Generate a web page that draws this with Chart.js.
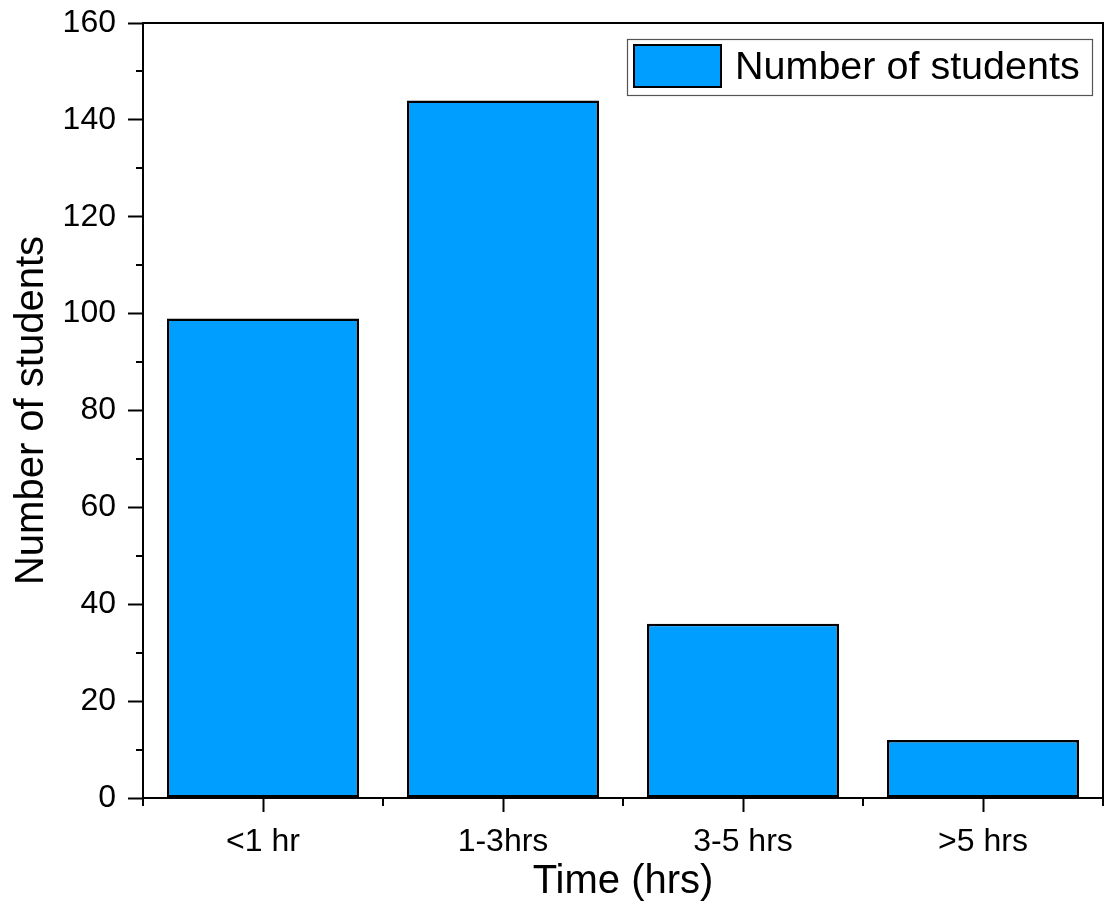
<!DOCTYPE html>
<html>
<head>
<meta charset="utf-8">
<style>
  html, body { margin: 0; padding: 0; background: #ffffff; }
  #wrap { width: 1107px; height: 911px; }
</style>
<script src="https://cdn.jsdelivr.net/npm/chart.js@4.4.1/dist/chart.umd.min.js"></script>
</head>
<body>
<div id="wrap"><canvas id="chart" width="1107" height="911"></canvas></div>
<script>
// Study time groups and how many students fall in each
const categories = ['<1 hr', '1-3hrs', '3-5 hrs', '>5 hrs'];
const studentCounts = [99, 144, 36, 12];
const seriesLabel = 'Number of students';
const yTicks = { min: 0, max: 160, step: 20, minorStep: 10 };

const FONT = "'Liberation Sans', Arial, Helvetica, sans-serif";
const BAR_FILL = '#009EFF';
const INK = '#000000';
const TITLE_SIZE = 40;
const LEGEND_SIZE = 39.5;

// Minor tick marks, the closed frame and the boxed legend
const framePlugin = {
  id: 'frameAndMinorTicks',
  afterDraw(chart) {
    const { ctx, chartArea: a, scales } = chart;
    const y = scales.y, x = scales.x;
    ctx.save();
    ctx.strokeStyle = INK;
    ctx.lineWidth = 2;

    // top and right edges of the frame
    ctx.beginPath();
    ctx.moveTo(a.left, a.top);
    ctx.lineTo(a.right, a.top);
    ctx.lineTo(a.right, a.bottom);
    ctx.stroke();

    // y minor ticks
    ctx.beginPath();
    for (let v = yTicks.min + yTicks.minorStep; v < yTicks.max; v += yTicks.step) {
      const py = Math.round(y.getPixelForValue(v));
      ctx.moveTo(a.left - 7, py);
      ctx.lineTo(a.left, py);
    }
    // x minor ticks on category boundaries
    const n = categories.length;
    const half = (x.getPixelForValue(1) - x.getPixelForValue(0)) / 2;
    for (let i = 0; i <= n; i++) {
      const px = Math.round(x.getPixelForValue(Math.min(i, n - 1)) + (i < n ? -half : half));
      ctx.moveTo(px, a.bottom);
      ctx.lineTo(px, a.bottom + 8);
    }
    ctx.stroke();

    // legend box
    const ds = chart.data.datasets[0];
    const bx = a.right - 476, by = a.top + 16, bw = 465, bh = 56;
    ctx.lineWidth = 1.2;
    ctx.strokeStyle = '#555555';
    ctx.strokeRect(bx + 0.5, by + 0.5, bw, bh);
    ctx.fillStyle = ds.backgroundColor;
    ctx.fillRect(bx + 6, by + 5, 89, 44);
    ctx.lineWidth = 2;
    ctx.strokeStyle = INK;
    ctx.strokeRect(bx + 7, by + 6, 87, 42);
    ctx.fillStyle = INK;
    ctx.font = LEGEND_SIZE + 'px ' + FONT;
    ctx.textBaseline = 'middle';
    ctx.textAlign = 'left';
    ctx.fillText(ds.label, bx + 108, by + 29);
    ctx.restore();
  }
};

new Chart(document.getElementById('chart'), {
  type: 'bar',
  data: {
    labels: categories,
    datasets: [{
      label: seriesLabel,
      data: studentCounts,
      backgroundColor: BAR_FILL,
      borderColor: INK,
      borderWidth: 2.5,
      borderSkipped: false,
      barPercentage: 0.8,
      categoryPercentage: 1.0
    }]
  },
  options: {
    responsive: false,
    animation: false,
    layout: { padding: { top: 23, right: 4, left: 0, bottom: 0 } },
    plugins: {
      legend: { display: false },
      tooltip: { enabled: false }
    },
    scales: {
      x: {
        type: 'category',
        offset: true,
        afterFit: (s) => { s.height = 113; s.paddingLeft = 0; s.paddingRight = 0; },
        grid: {
          offset: false,
          drawOnChartArea: false,
          drawTicks: true,
          tickLength: 14,
          tickWidth: 2,
          tickColor: INK
        },
        border: { display: true, color: INK, width: 2 },
        ticks: { color: INK, font: { family: FONT, size: 32 }, padding: 11, maxRotation: 0 },
        title: {
          display: true,
          text: 'Time (hrs)',
          color: INK,
          font: { family: FONT, size: TITLE_SIZE },
          padding: { top: 0, bottom: 5 }
        }
      },
      y: {
        min: yTicks.min,
        max: yTicks.max,
        afterFit: (s) => { s.width = 143; s.paddingTop = 0; s.paddingBottom = 0; },
        ticks: { stepSize: yTicks.step, color: INK, font: { family: FONT, size: 32 }, padding: 12 },
        grid: {
          drawOnChartArea: false,
          drawTicks: true,
          tickLength: 15,
          tickWidth: 2,
          tickColor: INK
        },
        border: { display: true, color: INK, width: 2 },
        title: {
          display: true,
          text: 'Number of students',
          color: INK,
          font: { family: FONT, size: TITLE_SIZE },
          padding: { top: 8, bottom: 0 }
        }
      }
    }
  },
  plugins: [framePlugin]
});
</script>
</body>
</html>
